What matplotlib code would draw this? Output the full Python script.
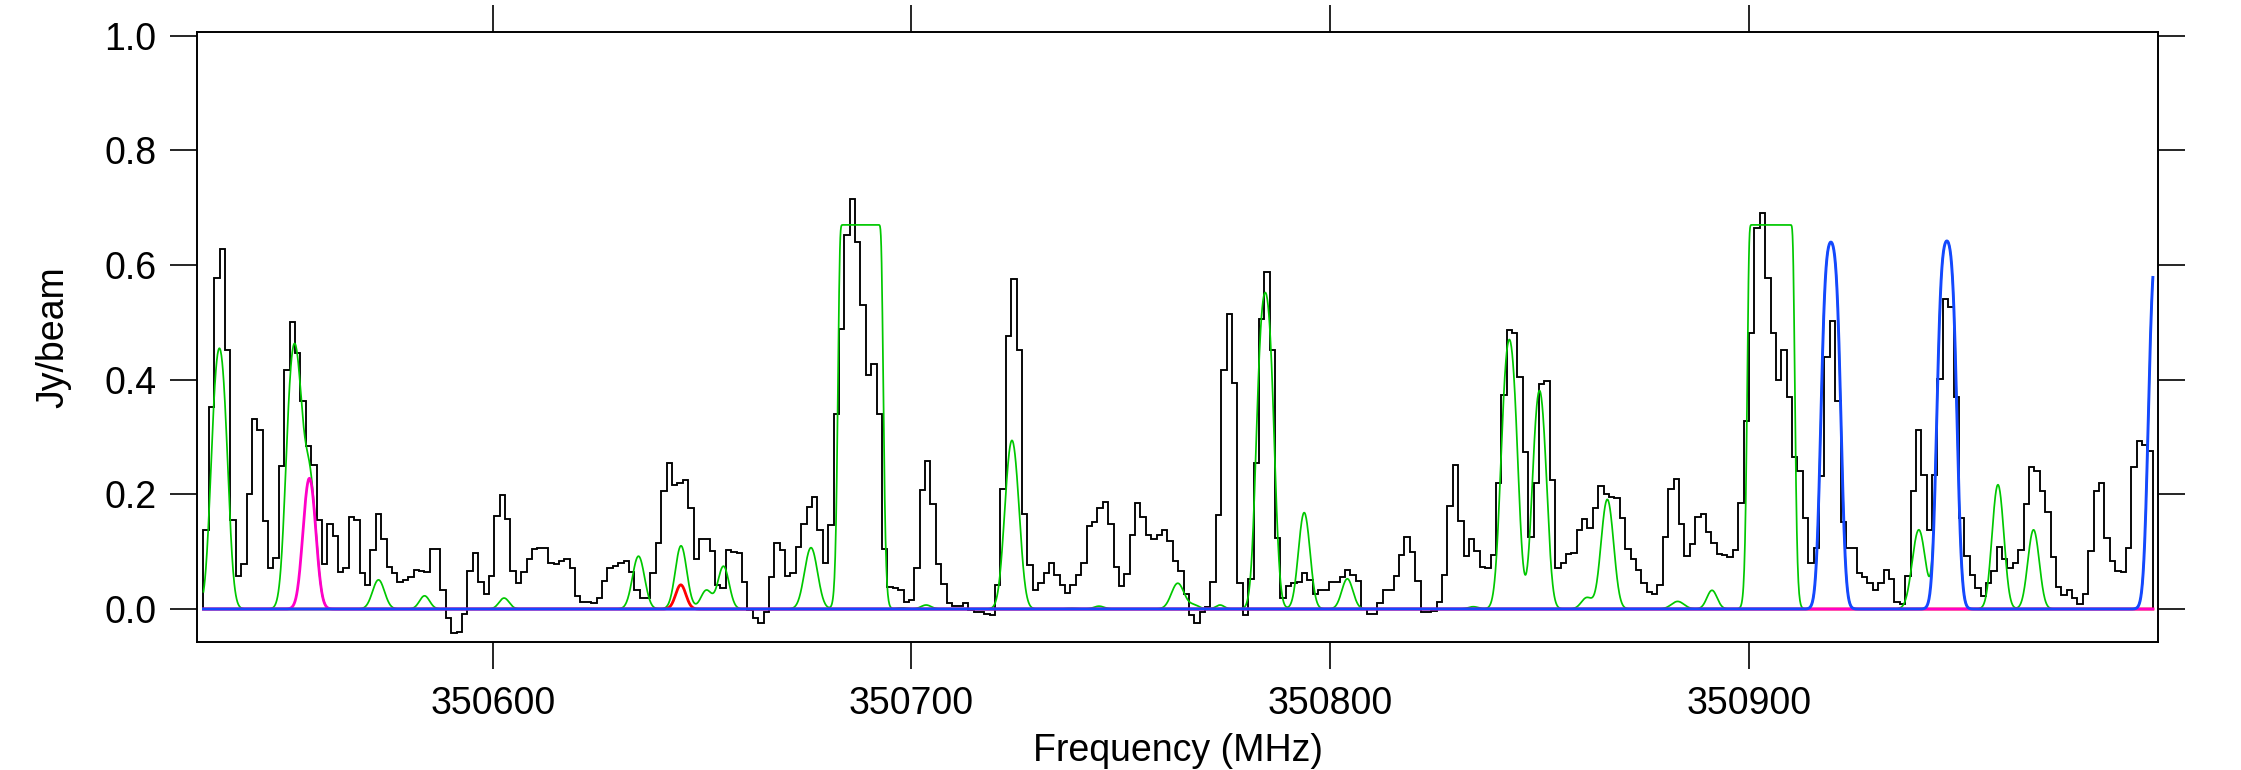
import numpy as np
import matplotlib
matplotlib.use("Agg")
import matplotlib.pyplot as plt

plt.rcParams['font.family'] = ['Liberation Sans', 'DejaVu Sans']

# observed spectrum (Jy/beam), one value per channel
f_first = 350530.9   # low edge of first channel (MHz)
f_last = 350996.5    # high edge of last channel (MHz)
flux = [
    0.138, 0.353, 0.578, 0.628, 0.452, 0.156, 0.058, 0.078, 0.200, 0.331,
    0.313, 0.154, 0.071, 0.089, 0.249, 0.417, 0.501, 0.446, 0.362, 0.284,
    0.252, 0.156, 0.078, 0.148, 0.127, 0.065, 0.071, 0.161, 0.155, 0.063,
    0.042, 0.103, 0.165, 0.123, 0.073, 0.062, 0.047, 0.051, 0.056, 0.068,
    0.067, 0.065, 0.105, 0.105, 0.034, -0.015, -0.041, -0.040, -0.008, 0.067,
    0.098, 0.048, 0.026, 0.058, 0.163, 0.199, 0.157, 0.067, 0.046, 0.065,
    0.087, 0.105, 0.106, 0.106, 0.080, 0.078, 0.084, 0.087, 0.071, 0.023,
    0.013, 0.013, 0.010, 0.019,
    0.049, 0.071, 0.075, 0.080, 0.083, 0.065, 0.034, 0.020, 0.020, 0.063,
    0.115, 0.205, 0.254, 0.216, 0.220, 0.225, 0.177, 0.087, 0.122, 0.122,
    0.101, 0.042, 0.036, 0.103, 0.100, 0.097, 0.048, -0.002, -0.016, -0.025,
    -0.005, 0.055, 0.115, 0.103, 0.058, 0.063, 0.108, 0.149, 0.178, 0.196,
    0.138, 0.081, 0.147, 0.341, 0.488, 0.652, 0.715, 0.641, 0.530, 0.408,
    0.428, 0.341, 0.104, 0.039, 0.036, 0.033, 0.013, 0.016, 0.071, 0.208,
    0.259, 0.183, 0.078, 0.044, 0.010, 0.005, 0.005, 0.010, -0.001, -0.005,
    -0.005, -0.008, -0.010,
    0.042, 0.209, 0.477, 0.575, 0.452, 0.165, 0.077, 0.034, 0.045, 0.063,
    0.080, 0.059, 0.042, 0.028, 0.042, 0.059, 0.081, 0.145, 0.152, 0.177,
    0.187, 0.149, 0.074, 0.041, 0.061, 0.129, 0.185, 0.161, 0.129, 0.123,
    0.129, 0.138, 0.119, 0.083, 0.067, 0.027, -0.010, -0.025, -0.005, 0.004,
    0.048, 0.164, 0.417, 0.515, 0.394, 0.045, -0.010, 0.053, 0.254, 0.505,
    0.588, 0.452, 0.124, 0.019, 0.040, 0.045, 0.048, 0.063, 0.051, 0.027,
    0.034, 0.034, 0.047, 0.048, 0.056, 0.068, 0.059, 0.049, 0.000, -0.009,
    -0.008, 0.010, 0.033, 0.033, 0.058,
    0.095, 0.126, 0.100, 0.049, -0.005, -0.006, -0.003, 0.012, 0.059, 0.180,
    0.251, 0.154, 0.092, 0.122, 0.101, 0.073, 0.072, 0.095, 0.219, 0.373,
    0.487, 0.482, 0.405, 0.274, 0.126, 0.220, 0.392, 0.397, 0.225, 0.071,
    0.080, 0.096, 0.098, 0.138, 0.157, 0.141, 0.176, 0.215, 0.200, 0.196,
    0.194, 0.158, 0.104, 0.087, 0.068, 0.046, 0.030, 0.027, 0.042, 0.126,
    0.210, 0.226, 0.148, 0.092, 0.113, 0.161, 0.166, 0.135, 0.116, 0.096,
    0.094, 0.090, 0.103, 0.185, 0.328, 0.482, 0.664, 0.690, 0.577, 0.481,
    0.399, 0.452, 0.370, 0.266,
    0.241, 0.159, 0.080, 0.107, 0.232, 0.440, 0.502, 0.362, 0.152, 0.106,
    0.106, 0.062, 0.055, 0.046, 0.033, 0.045, 0.068, 0.053, 0.012, 0.009,
    0.058, 0.205, 0.312, 0.234, 0.138, 0.234, 0.402, 0.540, 0.527, 0.370,
    0.158, 0.092, 0.059, 0.037, 0.023, 0.045, 0.066, 0.109, 0.088, 0.071,
    0.081, 0.103, 0.184, 0.248, 0.241, 0.206, 0.170, 0.090, 0.039, 0.024,
    0.034, 0.019, 0.009, 0.026, 0.101, 0.205, 0.220, 0.124, 0.084, 0.066,
    0.065, 0.106, 0.247, 0.293, 0.286, 0.276,
]

# model lines: centre (MHz), peak opacity, gaussian sigma (MHz)
tex = 0.67
other_freq = [350534.7, 350552.6, 350572.7, 350583.7, 350602.7, 350634.8,
              350645.0, 350651.0, 350655.1, 350676.0, 350687.85, 350697.7,
              350703.5, 350724.0, 350738.3, 350744.8, 350763.6, 350767.5,
              350773.7, 350784.5, 350793.8, 350804.1, 350834.2, 350842.8,
              350850.0, 350861.3, 350866.2, 350883.0, 350891.2, 350905.3,
              350940.6, 350959.5, 350968.0]
other_tau = [1.136, 1.16, 0.079, 0.035, 0.029, 0.148,
             0.115, 0.05, 0.118, 0.174, 920, 0.003,
             0.0105, 0.578, 0.0015, 0.0075, 0.0695, 0.01,
             0.0105, 1.737, 0.289, 0.082, 0.006, 1.209,
             0.841, 0.03, 0.336, 0.020, 0.050, 1900,
             0.231, 0.391, 0.231]
other_sig = [1.5, 1.5, 1.4, 1.2, 1.2, 1.4,
             1.4, 1.3, 1.3, 1.5, 1.45, 1.2,
             1.2, 1.5, 1.2, 1.2, 1.5, 1.2,
             1.0, 1.45, 1.3, 1.3, 1.2, 1.5,
             1.4, 1.3, 1.4, 1.5, 1.2, 1.45,
             1.5, 1.3, 1.3]

mag_freq = [350556.2]
mag_tau = [0.416]
mag_sig = [1.4]

red_freq = [350644.9]
red_tau = [0.065]
red_sig = [1.2]

blue_freq = [350919.6, 350947.3, 350997.8]
blue_tau = [3.106, 3.175, 3.1]
blue_sig = [1.38, 1.38, 1.38]


def opacity(x, cen, tau, sig):
    t = np.zeros_like(x)
    for c, a, s in zip(cen, tau, sig):
        t += a * np.exp(-0.5 * ((x - c) / s) ** 2)
    return t


edges = np.linspace(f_first, f_last, len(flux) + 1)
x = np.linspace(f_first, f_last, 5000)

tau_o = opacity(x, other_freq, other_tau, other_sig)
tau_m = opacity(x, mag_freq, mag_tau, mag_sig)
tau_r = opacity(x, red_freq, red_tau, red_sig)
tau_b = opacity(x, blue_freq, blue_tau, blue_sig)

total = tex * (1 - np.exp(-(tau_o + tau_m + tau_r + tau_b)))

fig = plt.figure(figsize=(22.41, 7.70), dpi=100)
ax = fig.add_axes([0.0880, 0.1658, 0.8751, 0.7920])

ax.stairs(flux, edges, color='black', lw=1.35, zorder=1)
ax.plot(x, total, color='#00c800', lw=1.25, zorder=2)
ax.plot(x, tex * (1 - np.exp(-tau_r)), color='#ff0000', lw=2.0, zorder=3)
ax.plot(x, tex * (1 - np.exp(-tau_m)), color='#ff00c8', lw=2.0, zorder=4)
ax.plot(x, tex * (1 - np.exp(-tau_b)), color='#1448ff', lw=2.1, zorder=5)

ax.set_xlim(350529.4, 350997.8)
ax.set_ylim(-0.0581, 1.0056)
ax.set_xticks([350600, 350700, 350800, 350900])
ax.set_yticks([0.0, 0.2, 0.4, 0.6, 0.8, 1.0])
ax.set_yticklabels(['0.0', '0.2', '0.4', '0.6', '0.8', '1.0'])
ax.ticklabel_format(axis='x', useOffset=False, style='plain')

for s in ax.spines.values():
    s.set_linewidth(1.4)
ax.tick_params(axis='both', direction='out', length=19.5, width=1.2,
               labelsize=27, top=True, right=True)
ax.tick_params(axis='x', pad=12)
ax.tick_params(axis='y', pad=10)

ax.set_xlabel('Frequency (MHz)', fontsize=27)
ax.set_ylabel('Jy/beam', fontsize=27)
ax.xaxis.set_label_coords(0.5, -0.149)
ax.yaxis.set_label_coords(-0.064, 0.5)

fig.savefig('out.png', dpi=100)
